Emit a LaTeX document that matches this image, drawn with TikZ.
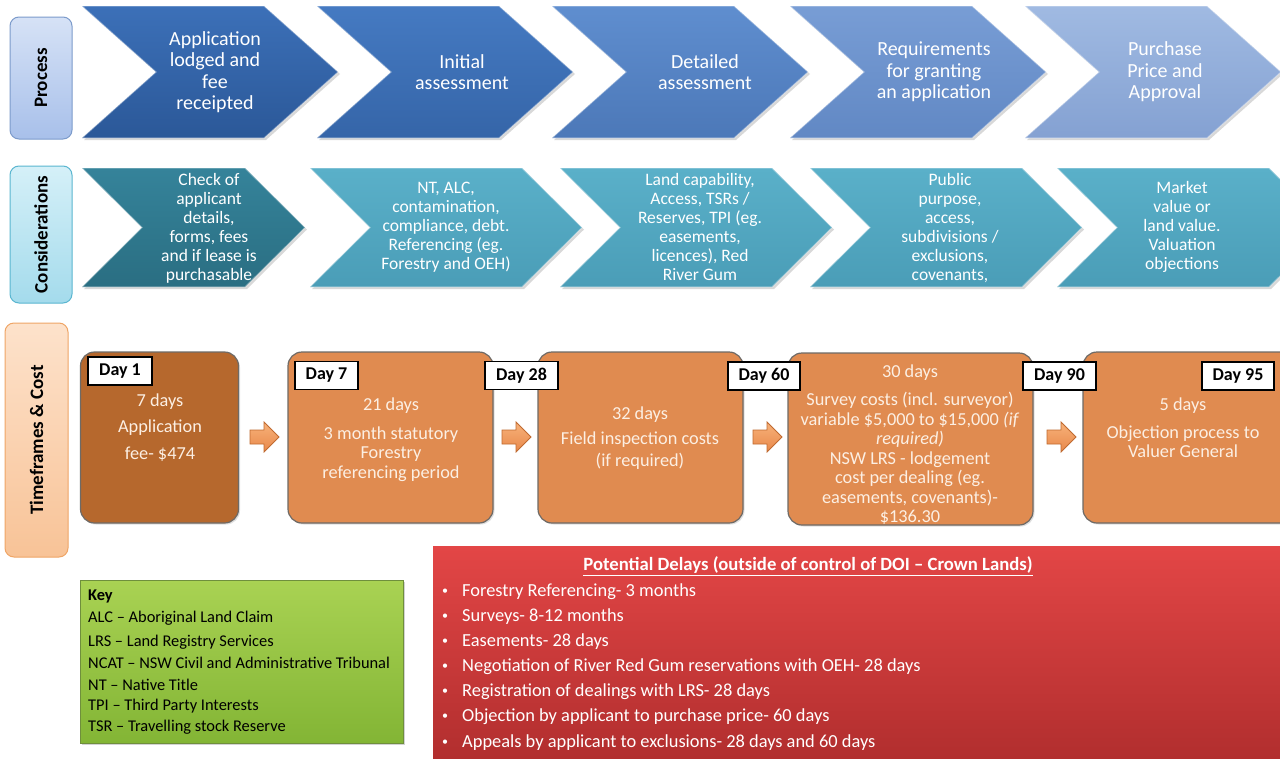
\documentclass[tikz,border=0pt]{standalone}
\usepackage{fontspec}
\setmainfont{Carlito}
\usetikzlibrary{shadows}
\newcommand\myfs[2]{\fontsize{#1}{#2}\selectfont}
\definecolor{pA1}{HTML}{3C70B8}\definecolor{pA2}{HTML}{2B5898}
\definecolor{pB1}{HTML}{457AC2}\definecolor{pB2}{HTML}{3565A8}
\definecolor{pC1}{HTML}{5F8ECF}\definecolor{pC2}{HTML}{4C78B8}
\definecolor{pD1}{HTML}{789DD5}\definecolor{pD2}{HTML}{6188C4}
\definecolor{pE1}{HTML}{A0BAE2}\definecolor{pE2}{HTML}{84A1D2}
\definecolor{cA1}{HTML}{35839A}\definecolor{cA2}{HTML}{2A6E82}
\definecolor{cB1}{HTML}{5AB0C9}\definecolor{cB2}{HTML}{4A9DB7}
\definecolor{procTop}{HTML}{D6E2F6}\definecolor{procBot}{HTML}{A8C0EA}\definecolor{procLine}{HTML}{7C9BCB}
\definecolor{consTop}{HTML}{D5F0F8}\definecolor{consBot}{HTML}{A4DBEC}\definecolor{consLine}{HTML}{5AB6D0}
\definecolor{timeTop}{HTML}{FDE2CB}\definecolor{timeBot}{HTML}{F8C397}\definecolor{timeLine}{HTML}{EFA566}
\definecolor{boxDark}{HTML}{B6682D}\definecolor{boxLight}{HTML}{E08B50}\definecolor{boxLine}{HTML}{6E6A66}
\definecolor{arrTop}{HTML}{F7B27A}\definecolor{arrBot}{HTML}{E8884A}\definecolor{arrLine}{HTML}{C06A30}
\definecolor{keyTop}{HTML}{A9D253}\definecolor{keyBot}{HTML}{83B535}\definecolor{keyLine}{HTML}{6F8F3C}
\definecolor{delTop}{HTML}{E34646}\definecolor{delBot}{HTML}{B12E2E}
\definecolor{boxText}{HTML}{FCEFE3}
\newcommand\mychev[7]{%
 \path[chevron, top color=#6, bottom color=#7] (#1,#2) -- ({#1+#4-#5},#2) -- ({#1+#4},{(#2+#3)/2}) -- ({#1+#4-#5},#3) -- (#1,#3) -- ({#1+#5},{(#2+#3)/2}) -- cycle;}
\newcommand\myarrow[2]{%
 \path[smallarrow] (#1,{#2+8}) -- ({#1+14},{#2+8}) -- ({#1+14},#2) -- ({#1+29},{#2+15}) -- ({#1+14},{#2+30}) -- ({#1+14},{#2+22}) -- (#1,{#2+22}) -- cycle;}
\begin{document}
\begin{tikzpicture}[x=1pt,y=-1pt,
  chevron/.style={draw=white, draw opacity=0.35, line width=1.2pt,
    drop shadow={opacity=0.3, shadow xshift=2pt, shadow yshift=-2pt}},
  smallarrow/.style={draw=arrLine, line width=0.8pt, top color=arrTop, bottom color=arrBot},
  sidebox/.style={rounded corners=9pt, line width=1pt, inner sep=0pt},
  sidetext/.style={rotate=90, font=\myfs{19}{22}\bfseries, text=black},
  ptext/.style={align=center, text=white, font=\myfs{20}{21.5}},
  ctext/.style={align=center, text=white, font=\myfs{17.5}{19}},
  tbox/.style={rounded corners=14pt, draw=boxLine, line width=1.2pt, inner sep=0pt,
    drop shadow={opacity=0.25, shadow xshift=1.5pt, shadow yshift=-1.5pt}},
  ttext/.style={align=center, text=boxText, font=\myfs{18.3}{19.5}},
  daybox/.style={draw=black, line width=1.1pt, fill=white, inner sep=0pt,
    font=\myfs{18}{20}\bfseries, text=black},
  keytext/.style={anchor=west, inner sep=0pt, font=\myfs{16.4}{18}, text=black},
  deltext/.style={anchor=west, inner sep=0pt, font=\myfs{18.4}{20}, text=white}]
\clip (0,0) rectangle (1280,758);
\fill[white] (0,0) rectangle (1280,758);

% ---------- side labels ----------
\node[sidebox, draw=procLine, top color=procTop, bottom color=procBot,
  minimum width=62, minimum height=122] (lp) at (41,78) {};
\node[sidetext] (lpt) at (lp.center) {Process};
\node[sidebox, draw=consLine, top color=consTop, bottom color=consBot,
  minimum width=62, minimum height=137] (lc) at (41,234.5) {};
\node[sidetext] (lct) at (lc.center) {Considerations};
\node[sidebox, draw=timeLine, top color=timeTop, bottom color=timeBot,
  minimum width=63, minimum height=234] (lt) at (36.5,440) {};
\node[sidetext] (ltt) at (lt.center) {Timeframes \& Cost};

% ---------- process chevrons ----------
\mychev{82}{6}{138}{256}{74}{pA1}{pA2}
\mychev{317}{6}{138}{256}{74}{pB1}{pB2}
\mychev{552}{6}{138}{256}{74}{pC1}{pC2}
\mychev{790}{6}{138}{256}{74}{pD1}{pD2}
\mychev{1025}{6}{138}{256}{74}{pE1}{pE2}
\node[ptext] (p1) at (215,72) {Application\\lodged and\\fee\\receipted};
\node[ptext] (p2) at (462,72) {Initial\\assessment};
\node[ptext] (p3) at (705,72) {Detailed\\assessment};
\node[ptext] (p4) at (934,72) {Requirements\\for granting\\an application};
\node[ptext] (p5) at (1165,72) {Purchase\\Price and\\Approval};

% ---------- consideration chevrons ----------
\mychev{82}{168}{287}{223}{60}{cA1}{cA2}
\mychev{310}{168}{287}{272}{60}{cB1}{cB2}
\mychev{560}{168}{287}{272}{60}{cB1}{cB2}
\mychev{810}{168}{287}{272}{60}{cB1}{cB2}
\mychev{1057}{168}{287}{272}{60}{cB1}{cB2}
\node[ctext] (c1) at (209,228) {Check of\\applicant\\details,\\forms, fees\\and if lease is\\purchasable};
\node[ctext] (c2) at (446,227) {NT, ALC,\\contamination,\\compliance, debt.\\Referencing (eg.\\Forestry and OEH)};
\node[ctext] (c3) at (700,227) {Land capability,\\Access, TSRs /\\Reserves, TPI (eg.\\easements,\\licences), Red\\River Gum};
\node[ctext] (c4) at (950,228) {Public\\purpose,\\access,\\subdivisions /\\exclusions,\\covenants,};
\node[ctext] (c5) at (1182,227) {Market\\value or\\land value.\\Valuation\\objections};

% ---------- timeframe boxes ----------
\node[tbox, fill=boxDark, minimum width=158, minimum height=171] (b1) at (159.5,437.5) {};
\node[tbox, fill=boxLight, minimum width=205, minimum height=171] (b2) at (390.5,437.5) {};
\node[tbox, fill=boxLight, minimum width=205, minimum height=171] (b3) at (640.5,437.5) {};
\node[tbox, fill=boxLight, minimum width=245, minimum height=172] (b4) at (910.5,439) {};
\node[tbox, fill=boxLight, minimum width=215, minimum height=171] (b5) at (1190.5,437.5) {};

\node[daybox, minimum width=64, minimum height=28] (d1) at (120,371) {Day 1};
\node[daybox, minimum width=63, minimum height=28] (d7) at (326.5,375.5) {Day 7};
\node[daybox, minimum width=73, minimum height=28] (d28) at (521.5,375.5) {Day 28};
\node[daybox, minimum width=72, minimum height=28] (d60) at (764,376) {Day 60};
\node[daybox, minimum width=73, minimum height=28] (d90) at (1059.5,376) {Day 90};
\node[daybox, minimum width=72, minimum height=28] (d95) at (1238,376) {Day 95};

\node[ttext] (t1a) at (160,402) {7 days};
\node[ttext] (t1b) at (160,428) {Application};
\node[ttext] (t1c) at (160,454) {fee- \$474};

\node[ttext] (t2a) at (391,406) {21 days};
\node[ttext, anchor=north] (t2b) at (391,423) {3 month statutory\\Forestry\\referencing period};

\node[ttext] (t3a) at (640,415) {32 days};
\node[ttext, anchor=north] (t3b) at (640,428) {Field inspection costs\\[3pt](if required)};

\node[ttext] (t4a) at (910,373) {30 days};
\node[ttext, anchor=north] (t4b) at (910,389) {Survey costs (incl. surveyor)\\variable \$5,000 to \$15,000 \textit{(if}\\\textit{required)}\\NSW LRS - lodgement\\cost per dealing (eg.\\easements, covenants)-\\\$136.30};

\node[ttext] (t5a) at (1183,406) {5 days};
\node[ttext, anchor=north] (t5b) at (1183,422) {Objection process to\\Valuer General};

\myarrow{250}{422}
\myarrow{502}{422}
\myarrow{753}{422}
\myarrow{1047}{422}

% ---------- key ----------
\node[draw=keyLine, line width=0.8pt, top color=keyTop, bottom color=keyBot,
  minimum width=323, minimum height=163, inner sep=0pt,
  drop shadow={opacity=0.35, shadow xshift=2pt, shadow yshift=-2pt}] (key) at (241.5,661.5) {};
\node[keytext, font=\myfs{16.4}{18}\bfseries] (k0) at (88,596) {Key};
\node[keytext] (k1) at (88,618) {ALC – Aboriginal Land Claim};
\node[keytext] (k2) at (88,642) {LRS – Land Registry Services};
\node[keytext] (k3) at (88,663) {NCAT – NSW Civil and Administrative Tribunal};
\node[keytext] (k4) at (88,685) {NT – Native Title};
\node[keytext] (k5) at (88,706) {TPI – Third Party Interests};
\node[keytext] (k6) at (88,727) {TSR – Travelling stock Reserve};

% ---------- delays ----------
\node[top color=delTop, bottom color=delBot, minimum width=850, minimum height=214,
  inner sep=0pt] (del) at (858,653) {};
\node[text=white, font=\myfs{18.7}{20}\bfseries] (dt) at (808,566)
  {\underline{Potential Delays (outside of control of DOI – Crown Lands)}};
\foreach \yy/\txt [count=\i] in {592/{Forestry Referencing- 3 months},
  617/{Surveys- 8-12 months},
  642/{Easements- 28 days},
  667/{Negotiation of River Red Gum reservations with OEH- 28 days},
  692/{Registration of dealings with LRS- 28 days},
  717/{Objection by applicant to purchase price- 60 days},
  743/{Appeals by applicant to exclusions- 28 days and 60 days}}{
  \node[text=white, inner sep=0pt, font=\myfs{12}{14}] (bul\i) at (445,\yy) {•};
  \node[deltext] (del\i) at (462,\yy) {\txt};
}
\end{tikzpicture}
\end{document}
